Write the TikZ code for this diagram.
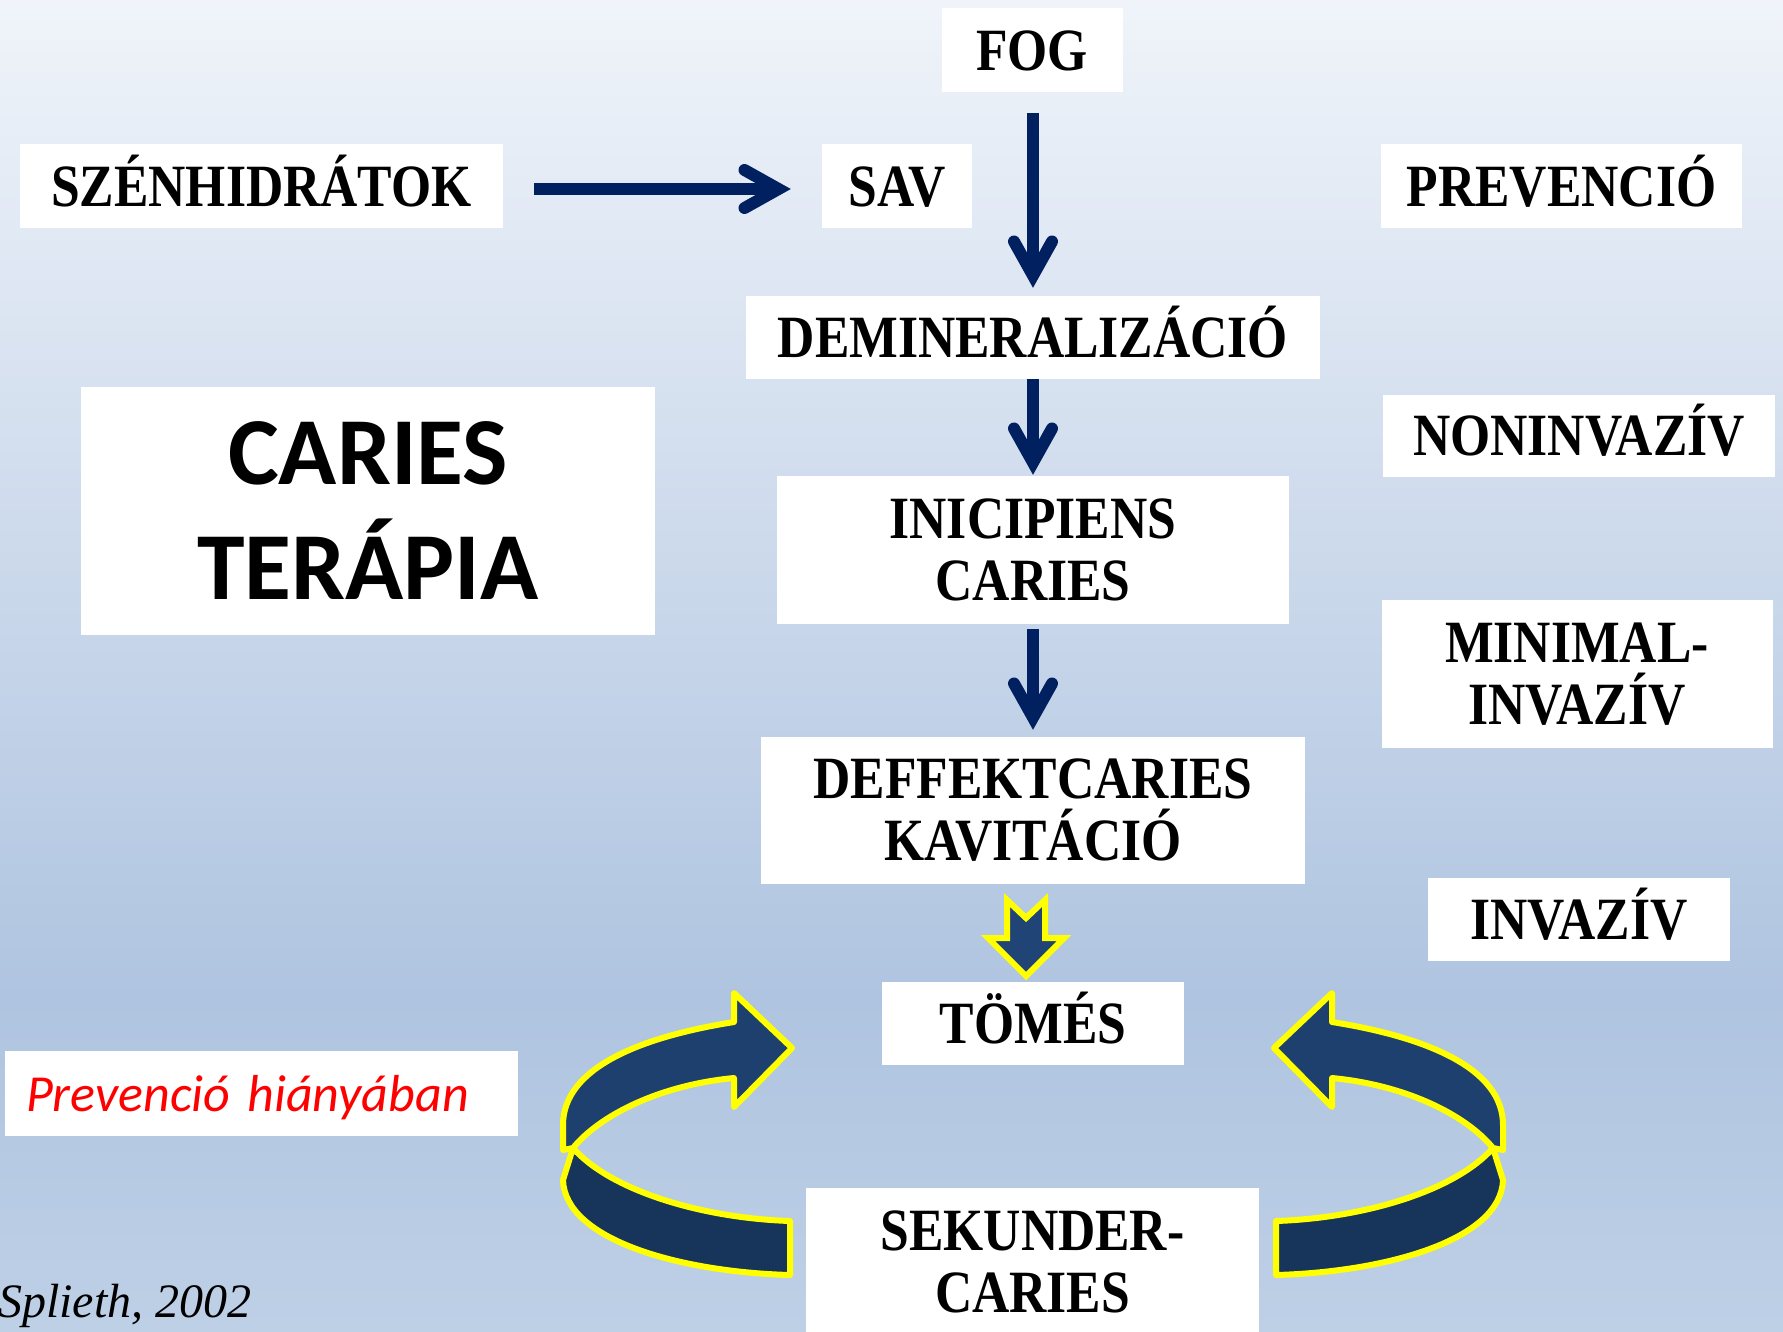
\documentclass[tikz,border=0pt]{standalone}
\usepackage{fontspec}
\usetikzlibrary{arrows.meta}
\newfontfamily\lblfont{Liberation Serif}[FakeStretch=0.86]
\newfontfamily\calfont{Carlito}
\newfontfamily\citefont{Liberation Serif}
\definecolor{navy}{HTML}{002060}
\definecolor{blkfill}{HTML}{1F4475}
\definecolor{bandtop}{HTML}{1E406F}
\definecolor{bandbot}{HTML}{17355A}
\definecolor{yel}{HTML}{FFFF00}
\definecolor{bgtop}{HTML}{F0F4FA}
\definecolor{bgmid}{HTML}{AFC4E0}
\definecolor{bgbot}{HTML}{BED0E6}
\pgfdeclareverticalshading{bgshade}{100bp}{color(0bp)=(bgbot); color(25bp)=(bgbot); color(37.5bp)=(bgmid); color(75bp)=(bgtop); color(100bp)=(bgtop)}
\begin{document}
\begin{tikzpicture}[x=1pt,y=-1pt,
  box/.style={fill=white, inner sep=0pt, text=black, font=\lblfont\bfseries\fontsize{60pt}{62pt}\selectfont},
  one/.style={box, text height=40pt, text depth=0pt},
  two/.style={box, align=center},
  arr/.style={draw=navy, line width=12pt, -{Straight Barb[length=34pt,width=38pt,line cap=round,line join=miter]}},
  band/.style={draw=yel, line width=6pt, line join=round},
]
\shade[shading=bgshade] (0,0) rectangle (1783,1331);
\useasboundingbox (0,0) rectangle (1783,1331);

\node[one, minimum width=181pt, minimum height=84pt] (fog) at (1032,50) {FOG};
\node[one, minimum width=483pt, minimum height=84pt] (szen) at (261.5,186) {SZÉNHIDRÁTOK};
\node[one, minimum width=150pt, minimum height=84pt] (sav) at (897,186) {SAV};
\node[one, minimum width=361pt, minimum height=84pt] (prev) at (1561.5,186) {PREVENCIÓ};
\node[one, minimum width=574pt, minimum height=83pt] (demin) at (1033,337.5) {DEMINERALIZÁCIÓ};
\node[one, minimum width=392pt, minimum height=82pt] (nonin) at (1579,435.5) {NONINVAZÍV};
\node[two, minimum width=512pt, minimum height=148pt] (inic) at (1033,550) {INICIPIENS\\CARIES};
\node[two, minimum width=391pt, minimum height=148pt] (minim) at (1577,674) {MINIMAL-\\INVAZÍV};
\node[two, minimum width=544pt, minimum height=147pt] (deff) at (1033,810.5) {DEFFEKTCARIES\\KAVITÁCIÓ};
\node[one, minimum width=302pt, minimum height=83pt] (inv) at (1579,919.5) {INVAZÍV};
\node[one, minimum width=302pt, minimum height=83pt] (tomes) at (1033,1023.5) {TÖMÉS};
\node[two, minimum width=453pt, minimum height=148pt] (sek) at (1032.5,1262) {SEKUNDER-\\CARIES};
\node[box, font=\calfont\bfseries\fontsize{96pt}{115pt}\selectfont, align=center, minimum width=574pt, minimum height=248pt] (ct) at (368,511) {CARIES\\TERÁPIA};
\node[fill=white, inner xsep=21pt, inner ysep=0pt, text width=471pt, align=left, text height=60pt, text depth=25pt, text=red, font=\calfont\itshape\fontsize{52pt}{60pt}\selectfont] (hiany) at (261.5,1093.5) {Prevenció hiányában};
\node[anchor=base west, inner sep=0pt, font=\citefont\itshape\fontsize{48pt}{52pt}\selectfont] (cite) at (-2,1317) {Splieth, 2002};

\draw[arr, shorten <=31pt, shorten >=31pt] ([yshift=-3pt]szen.east) -- ([yshift=-3pt]sav.west);
\draw[arr, shorten <=21pt, shorten >=8pt] (fog.south -| demin.north) -- (demin.north);
\draw[arr, shorten >=1pt] (demin) -- (inic);
\draw[arr, shorten <=5pt, shorten >=7pt] (inic) -- (deff);

\draw[fill=blkfill, draw=yel, line width=6pt, line join=miter] (1007,900) -- (1026,918) -- (1045,900) -- (1045,938) -- (1064,938) -- (1026,976) -- (988,938) -- (1007,938) -- cycle;

\draw[band, fill=bandbot] (573,1148) .. controls (610,1190) and (700,1218) .. (790,1221) -- (790,1275) .. controls (680,1272) and (565,1240) .. (563,1180) -- cycle;
\draw[band, fill=bandtop] (734,1022) .. controls (640,1037) and (563,1068) .. (563,1125) -- (563,1150) -- (573,1148) .. controls (600,1115) and (660,1085) .. (734,1078) -- (734,1107) -- (792,1048) -- (734,993) -- cycle;

\draw[band, fill=bandbot] (1493,1148) .. controls (1456,1190) and (1366,1218) .. (1276,1221) -- (1276,1275) .. controls (1386,1272) and (1501,1240) .. (1503,1180) -- cycle;
\draw[band, fill=bandtop] (1332,1022) .. controls (1426,1037) and (1503,1068) .. (1503,1125) -- (1503,1150) -- (1493,1148) .. controls (1466,1115) and (1406,1085) .. (1332,1078) -- (1332,1107) -- (1274,1048) -- (1332,993) -- cycle;
\end{tikzpicture}
\end{document}
